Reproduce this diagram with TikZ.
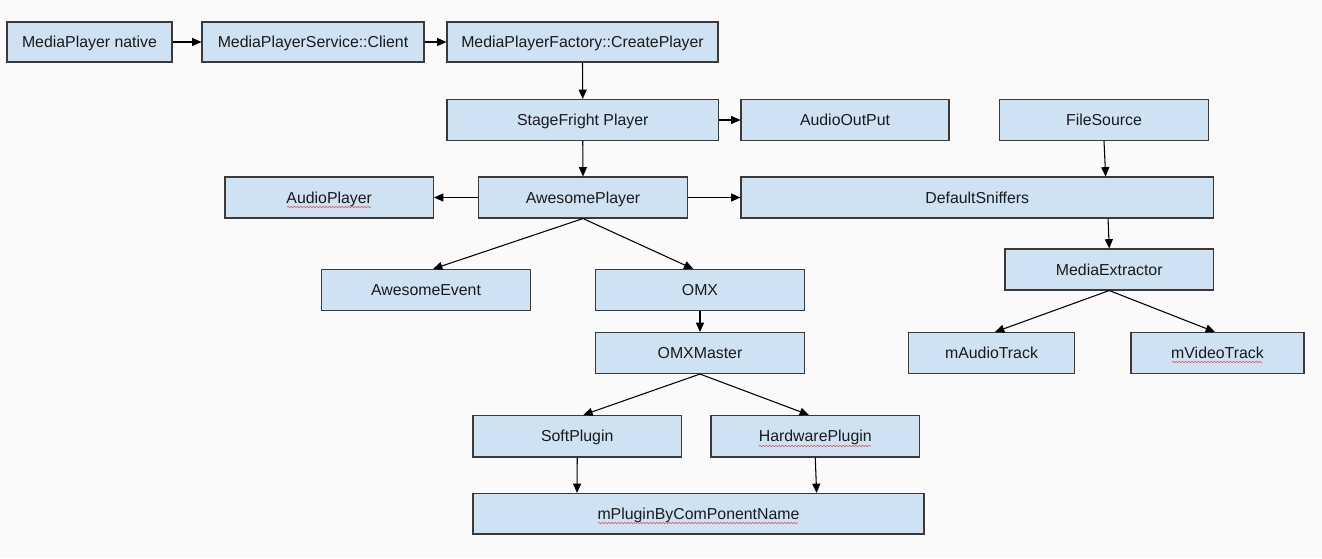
\documentclass[tikz,border=0pt]{standalone}
\usepackage{fontspec}
\setmainfont{Liberation Sans}
\usetikzlibrary{arrows.meta,decorations.pathmorphing}
\definecolor{boxfill}{HTML}{CFE2F3}
\definecolor{boxline}{HTML}{3A3A3A}
\definecolor{txt}{HTML}{1A1A1A}
\definecolor{squig}{HTML}{E05A5A}
\definecolor{bg}{HTML}{FAFAFA}
\tikzset{
  box/.style={draw=boxline, fill=boxfill, line width=0.8pt, inner sep=0pt,
    text=txt, font=\fontsize{11.9pt}{14pt}\selectfont, anchor=center,
    text height=8.6pt, text depth=0pt},
  arr/.style={draw=black, line width=0.8pt, -{Triangle[length=7pt,width=6pt]}},
  wavy/.style={draw=squig, line width=0.45pt, decorate,
    decoration={snake, amplitude=0.55pt, segment length=2.4pt}}
}
\newcommand\bx[6]{\node[box, minimum width={(#4-#2)*0.75pt}, minimum height={(#5-#3)*0.75pt}] (#1) at ({(#2+#4)/2},{(#3+#5)/2}) {#6};}
\begin{document}
\begin{tikzpicture}[x=0.75pt,y=-0.75pt]
\fill[bg] (0,0) rectangle (1322,558);
\useasboundingbox (0,0) rectangle (1322,558);
\bx{NAT}{7}{22}{172}{62}{MediaPlayer native}
\bx{CLI}{202}{22}{424}{62}{MediaPlayerService::Client}
\bx{FAC}{447}{22}{718}{62}{MediaPlayerFactory::CreatePlayer}
\bx{SF}{447}{99.5}{718.5}{140.5}{StageFright Player}
\bx{AO}{741}{99.5}{949}{140.5}{AudioOutPut}
\bx{FS}{999.5}{99.5}{1208.5}{140.5}{FileSource}
\bx{AP}{225}{177}{433.5}{218}{AudioPlayer}
\bx{AW}{478.5}{177}{687.5}{218}{AwesomePlayer}
\bx{DS}{741}{177}{1213.5}{218}{DefaultSniffers}
\bx{AE}{321.5}{269.5}{530.5}{310.5}{AwesomeEvent}
\bx{OMX}{595.5}{269.5}{804.5}{310.5}{OMX}
\bx{ME}{1005}{249}{1213.5}{290}{MediaExtractor}
\bx{OM}{595.5}{332.5}{804.5}{373.5}{OMXMaster}
\bx{MA}{908.5}{332.5}{1074.5}{373.5}{mAudioTrack}
\bx{MV}{1131}{332.5}{1304}{373.5}{mVideoTrack}
\bx{SP}{473}{415.5}{681.5}{457}{SoftPlugin}
\bx{HP}{711}{415.5}{919.5}{457}{HardwarePlugin}
\bx{MP}{473}{493.5}{924}{534}{mPluginByComPonentName}
% connectors
\draw[arr] (NAT.east) -- (CLI.west);
\draw[arr] (CLI.east) -- (FAC.west);
\draw[arr] (FAC.south) -- (SF.north);
\draw[arr] (SF.east) -- (AO.west);
\draw[arr] (SF.south) -- (AW.north);
\draw[arr] (AW.west) -- (AP.east);
\draw[arr] (AW.east) -- (DS.west);
\draw[arr] (FS.south) -- ([xshift=96.3pt]DS.north);
\draw[arr] ([xshift=98.1pt]DS.south) -- (ME.north);
\draw[arr] (ME.south) -- ([xshift=2.6pt]MA.north);
\draw[arr] (ME.south) -- ([xshift=-1.9pt]MV.north);
\draw[arr] (AW.south) -- ([xshift=5.25pt]AE.north);
\draw[arr] (AW.south) -- ([xshift=-5pt]OMX.north);
\draw[arr] (OMX.south) -- (OM.north);
\draw[arr] (OM.south) -- ([xshift=4.5pt]SP.north);
\draw[arr] (OM.south) -- ([xshift=-4.7pt]HP.north);
\draw[arr] (SP.south) -- ([xshift=-91.1pt]MP.north);
\draw[arr] (HP.south) -- ([xshift=88.6pt]MP.north);
% spell-check underlines
\path[wavy] (287,207) -- (371,207);
\path[wavy] (759,446) -- (871,446);
\path[wavy] (598,523) -- (798,523);
\path[wavy] (1172,362) -- (1262,362);
\end{tikzpicture}
\end{document}
